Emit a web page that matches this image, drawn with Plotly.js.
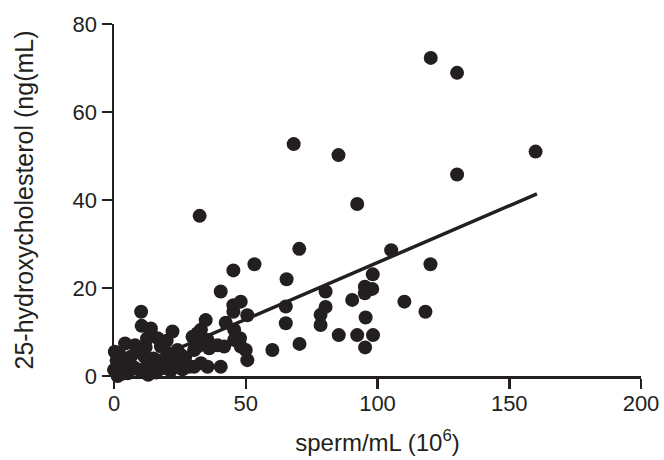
<!DOCTYPE html>
<html>
<head>
<meta charset="utf-8">
<script src="https://cdn.plot.ly/plotly-3.0.1.min.js"></script>
<style>html,body{margin:0;padding:0;background:#fff;}#chart{width:664px;height:460px;}</style>
</head>
<body>
<div id="chart"></div>
<script>
// sperm concentration (10^6 / mL)
const spermX = [
  120.2, 130.2, 160.0, 130.2, 68.2, 85.2, 92.3, 32.5, 70.3, 105.2,
  53.3, 45.3, 120.1, 65.5, 98.2, 95.2, 98.0, 95.2, 80.3, 40.5,
  90.4, 110.2, 118.2, 65.2, 65.2, 80.3, 78.4, 78.4, 95.5, 85.3,
  92.3, 98.3, 95.3, 70.4, 60.1, 48.1, 45.3, 50.6, 45.3, 42.4,
  45.6, 47.8, 50.0, 50.6, 48.1, 45.6, 34.8, 33.0, 31.7, 29.8,
  35.5, 39.3, 41.8, 30.4, 30.4, 35.5, 40.5, 33.0, 28.5, 25.4,
  31.7, 36.1, 22.2,
  10.3, 10.5, 4.2, 0.3, 0.0, 1.4, 14.0, 16.5, 17.8, 9.0,
  11.5, 6.4, 2.7, 14.0, 19.0, 10.2, 5.2, 25.4, 24.1, 20.3,
  3.0, 7.5, 12.0, 15.0, 18.0, 22.0, 26.0, 1.0, 8.0, 20.0,
  12.5, 4.0, 16.0, 27.0, 6.5, 21.5, 2.0, 13.0
];
// 25-hydroxycholesterol (ng/mL)
const hydroxyY = [
  72.3, 68.9, 51.0, 45.8, 52.7, 50.2, 39.1, 36.4, 28.9, 28.6,
  25.4, 24.0, 25.4, 22.0, 23.1, 20.3, 19.8, 18.8, 19.2, 19.2,
  17.3, 16.9, 14.6, 15.8, 12.0, 15.7, 13.9, 11.6, 13.3, 9.3,
  9.3, 9.3, 6.5, 7.3, 5.9, 16.9, 16.1, 13.8, 14.6, 12.1,
  10.5, 8.6, 5.9, 3.6, 6.7, 8.2, 12.7, 10.5, 9.7, 8.9,
  8.2, 7.0, 6.7, 5.9, 2.1, 2.1, 2.1, 2.9, 2.1, 4.8,
  6.7, 6.3, 10.1,
  14.6, 11.4, 7.4, 5.5, 1.4, 0.0, 10.8, 8.6, 6.7, 5.5,
  4.4, 4.4, 2.9, 2.1, 1.8, 1.0, 0.6, 2.9, 5.9, 5.2,
  0.5, 2.0, 6.5, 4.0, 3.5, 3.8, 1.5, 3.5, 7.0, 8.0,
  8.5, 2.0, 0.8, 4.2, 1.5, 1.2, 5.0, 0.3
];
// linear regression line endpoints
const fitX = [0.5, 160.5];
const fitY = [0.1, 41.4];

const xTicks = [0, 50, 100, 150, 200];
const yTicks = [0, 20, 40, 60, 80];

const ink = '#231f20';
const font = "Arial, 'Liberation Sans', sans-serif";

const traces = [
  {
    x: spermX, y: hydroxyY, type: 'scatter', mode: 'markers',
    marker: {size: 14, color: ink, line: {width: 0}},
    cliponaxis: false, hoverinfo: 'skip'
  },
  {
    x: fitX, y: fitY, type: 'scatter', mode: 'lines',
    line: {color: ink, width: 3.5},
    cliponaxis: false, hoverinfo: 'skip'
  }
];

const layout = {
  width: 664, height: 460,
  margin: {l: 114, r: 23, t: 24, b: 84},
  paper_bgcolor: '#fff', plot_bgcolor: '#fff',
  showlegend: false,
  font: {family: font, color: ink},
  xaxis: {
    range: [0, 200], tickvals: xTicks, ticktext: xTicks.map(String),
    showgrid: false, zeroline: false, showline: true, linecolor: ink, linewidth: 2.5,
    ticks: 'outside', ticklen: 10, tickwidth: 2.5, tickcolor: ink,
    ticklabelstandoff: -4,
    tickfont: {size: 22, family: font, color: ink},
    title: {text: 'sperm/mL (10<sup>6</sup>)', font: {size: 24, family: font, color: ink}, standoff: 20},
    fixedrange: true
  },
  yaxis: {
    range: [0, 80], tickvals: yTicks, ticktext: yTicks.map(String),
    showgrid: false, zeroline: false, showline: true, linecolor: ink, linewidth: 2.5,
    ticks: 'outside', ticklen: 10, tickwidth: 2.5, tickcolor: ink,
    tickfont: {size: 22, family: font, color: ink},
    title: {text: '25-hydroxycholesterol (ng(mL)', font: {size: 25, family: font, color: ink}, standoff: 32},
    fixedrange: true
  }
};

Plotly.newPlot('chart', traces, layout, {staticPlot: true, displayModeBar: false});
</script>
</body>
</html>
